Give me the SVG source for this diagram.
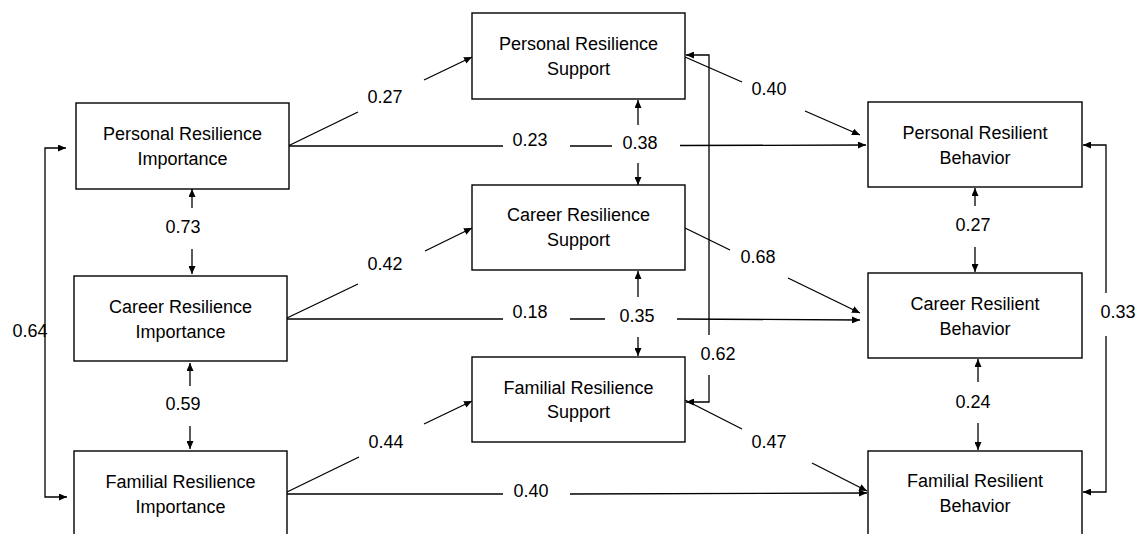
<svg xmlns="http://www.w3.org/2000/svg" width="1140" height="534" viewBox="0 0 1140 534">
<defs>
<marker id="ah" viewBox="0 0 8 7" refX="8" refY="3.5" markerWidth="8" markerHeight="7" markerUnits="userSpaceOnUse" orient="auto-start-reverse">
<path d="M0,0 L8,3.5 L0,7 z" fill="#000"/>
</marker>
<style>
rect.box{fill:#fff;stroke:#000;stroke-width:1.4}
text{font-family:"Liberation Sans",Arial,sans-serif;font-size:18px;fill:#000;text-anchor:middle}
.c path{fill:none;stroke:#000;stroke-width:1.3}
.c path.a{marker-end:url(#ah)}
.c path.b{marker-start:url(#ah);marker-end:url(#ah)}
</style>
</defs>
<rect width="1140" height="534" fill="#fff"/>
<g class="c" id="connectors">
<path class="b" d="M66,148 H45 V497 H67"/>
<text x="30" y="337">0.64</text>
<path class="a" d="M192,208 V189"/><path class="a" d="M192,249 V274"/>
<text x="183" y="233">0.73</text>
<path class="a" d="M190,386 V363"/><path class="a" d="M190,426 V449"/>
<text x="183" y="410">0.59</text>
<path d="M288,146 L358,112"/><path class="a" d="M424,80 L472,57"/>
<text x="385" y="103">0.27</text>
<path d="M288,146 H503"/><path d="M570,146 H612"/><path class="a" d="M680,145.5 L866,145"/>
<text x="530" y="146">0.23</text>
<path class="a" d="M638,125 V100"/><path class="a" d="M638,163 V185"/>
<text x="640" y="149">0.38</text>
<path d="M685,57 L742,82"/><path class="a" d="M805,111 L860,135"/>
<text x="769" y="95">0.40</text>
<path class="a" d="M709,335 V55 H686"/><path class="a" d="M709,375 V402 H686"/>
<text x="718" y="360">0.62</text>
<path d="M287,318 L358,284"/><path class="a" d="M425,251 L472,228"/>
<text x="385" y="270">0.42</text>
<path d="M287,319 H503"/><path d="M570,319 H605"/><path class="a" d="M677,319 L860,320"/>
<text x="530" y="318">0.18</text>
<path class="a" d="M638,297 V271"/><path class="a" d="M638,337 V356"/>
<text x="637" y="322">0.35</text>
<path d="M685,228 L730,250"/><path class="a" d="M788,278 L860,313"/>
<text x="758" y="263">0.68</text>
<path d="M287,492 L359,457"/><path class="a" d="M424,424 L472,401"/>
<text x="386" y="448">0.44</text>
<path d="M287,494 H503"/><path class="a" d="M570,494 L867,493"/>
<text x="531" y="497">0.40</text>
<path d="M685,400 L742,429"/><path class="a" d="M812,463 L867,491"/>
<text x="769" y="448">0.47</text>
<path class="a" d="M975,206 V188"/><path class="a" d="M975,247 V272"/>
<text x="973" y="231">0.27</text>
<path class="a" d="M978,382 V359"/><path class="a" d="M978,423 V450"/>
<text x="973" y="408">0.24</text>
<path class="a" d="M1106,293 V145 H1083"/><path class="a" d="M1106,336 V492 H1083"/>
<text x="1118" y="318">0.33</text>
</g>
<g id="personal_importance"><rect class="box" x="76" y="103" width="213" height="86"/><text x="182.5" y="140">Personal Resilience</text><text x="182.5" y="165">Importance</text></g>
<g id="career_importance"><rect class="box" x="74" y="276" width="213" height="85"/><text x="180.5" y="313">Career Resilience</text><text x="180.5" y="338">Importance</text></g>
<g id="familial_importance"><rect class="box" x="74" y="451" width="213" height="86"/><text x="180.5" y="488">Familial Resilience</text><text x="180.5" y="513">Importance</text></g>
<g id="personal_support"><rect class="box" x="472" y="13" width="213" height="86"/><text x="578.5" y="50">Personal Resilience</text><text x="578.5" y="75">Support</text></g>
<g id="career_support"><rect class="box" x="472" y="185" width="213" height="85"/><text x="578.5" y="221">Career Resilience</text><text x="578.5" y="246">Support</text></g>
<g id="familial_support"><rect class="box" x="472" y="357" width="213" height="85"/><text x="578.5" y="394">Familial Resilience</text><text x="578.5" y="418">Support</text></g>
<g id="personal_behavior"><rect class="box" x="868" y="102" width="214" height="85"/><text x="975" y="139">Personal Resilient</text><text x="975" y="164">Behavior</text></g>
<g id="career_behavior"><rect class="box" x="868" y="273" width="214" height="85"/><text x="975" y="310">Career Resilient</text><text x="975" y="335">Behavior</text></g>
<g id="familial_behavior"><rect class="box" x="868" y="451" width="214" height="86"/><text x="975" y="487">Familial Resilient</text><text x="975" y="512">Behavior</text></g>
</svg>
